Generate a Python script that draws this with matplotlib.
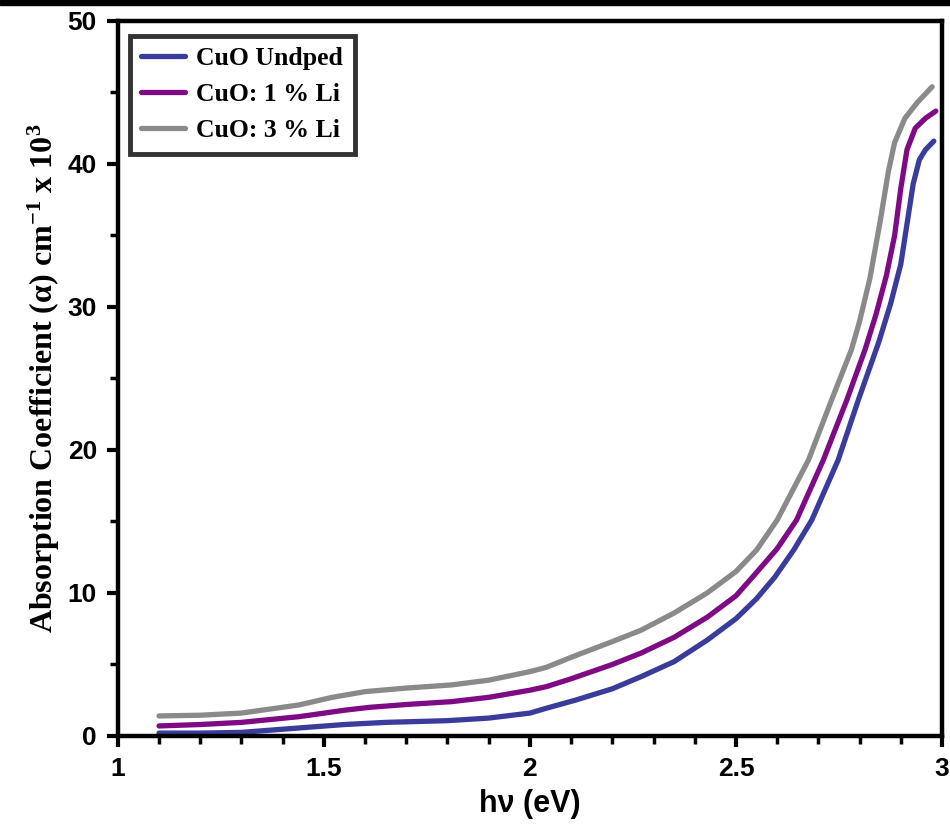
import matplotlib
matplotlib.use("Agg")
import matplotlib.pyplot as plt
from matplotlib.ticker import MultipleLocator
from matplotlib.patches import Rectangle

x_undoped = [1.10,1.20,1.30,1.44,1.55,1.65,1.80,1.90,2.00,2.04,2.11,2.20,2.27,2.35,2.43,2.50,2.55,2.594,2.64,2.684,2.748,2.797,2.846,2.875,2.90,2.915,2.93,2.945,2.96,2.98]
y_undoped = [0.2,0.2,0.25,0.56,0.8,0.95,1.07,1.25,1.6,1.94,2.5,3.3,4.15,5.2,6.7,8.2,9.6,11.1,13.0,15.1,19.3,23.5,27.5,30.2,33.0,35.8,38.6,40.3,41.0,41.6]

x_li1 = [1.10,1.20,1.30,1.44,1.55,1.61,1.70,1.81,1.90,2.00,2.04,2.10,2.20,2.27,2.35,2.43,2.50,2.546,2.60,2.647,2.712,2.769,2.813,2.84,2.865,2.885,2.90,2.915,2.935,2.96,2.985]
y_li1 = [0.7,0.8,0.95,1.35,1.8,2.0,2.2,2.4,2.7,3.2,3.45,4.0,5.0,5.8,6.9,8.3,9.8,11.3,13.1,15.1,19.3,23.5,27.0,29.5,32.2,35.0,38.3,41.0,42.5,43.2,43.7]

x_li3 = [1.10,1.20,1.30,1.44,1.52,1.60,1.70,1.81,1.90,2.00,2.04,2.10,2.20,2.27,2.35,2.43,2.50,2.55,2.60,2.676,2.732,2.78,2.80,2.825,2.85,2.87,2.885,2.91,2.94,2.976]
y_li3 = [1.4,1.45,1.6,2.17,2.7,3.1,3.35,3.57,3.9,4.5,4.8,5.5,6.6,7.4,8.6,10.0,11.5,13.0,15.1,19.3,23.5,27.0,29.0,32.0,36.0,39.5,41.5,43.2,44.3,45.4]

labels = ["CuO Undped", "CuO: 1 % Li", "CuO: 3 % Li"]
colors = ["#3a3c9c", "#7e0a84", "#8a8a8a"]

plt.rcParams['mathtext.fontset'] = 'custom'
plt.rcParams['mathtext.rm'] = 'Liberation Serif:bold'
plt.rcParams['mathtext.it'] = 'Liberation Serif:bold'
plt.rcParams['mathtext.bf'] = 'Liberation Serif:bold'

fig = plt.figure(figsize=(9.5, 8.3), dpi=100)
ax = fig.add_axes([0.124, 0.1133, 0.8676, 0.8614])

for xs, ys, lab, c in zip([x_undoped, x_li1, x_li3], [y_undoped, y_li1, y_li3], labels, colors):
    ax.plot(xs, ys, color=c, lw=3.8, label=lab, solid_capstyle='round', solid_joinstyle='round')

ax.set_xlim(1, 3)
ax.set_ylim(0, 50)
ax.xaxis.set_major_locator(MultipleLocator(0.5))
ax.xaxis.set_minor_locator(MultipleLocator(0.1))
ax.yaxis.set_major_locator(MultipleLocator(10))
ax.yaxis.set_minor_locator(MultipleLocator(5))
ax.set_xticks([1, 1.5, 2, 2.5, 3])
ax.set_xticklabels(["1", "1.5", "2", "2.5", "3"])

tickfont = ['Liberation Sans Narrow', 'Liberation Sans', 'DejaVu Sans']
for s in ax.spines.values():
    s.set_linewidth(3.2)
ax.tick_params(which='major', direction='out', length=8, width=3, labelsize=19, pad=7)
ax.tick_params(which='minor', direction='out', length=6, width=2.5)
ax.tick_params(axis='x', which='both', top=False)
ax.tick_params(axis='y', which='both', right=False)
for lab in ax.get_xticklabels() + ax.get_yticklabels():
    lab.set_family(tickfont)
    lab.set_fontweight('bold')

ax.set_xlabel("h\u03bd (eV)", fontsize=22, fontweight='bold', family=tickfont, labelpad=6)
ax.set_ylabel("Absorption Coefficient (\u03b1) cm$^{-1}$ x 10$^{3}$", fontsize=23, fontweight='bold',
              family=['Liberation Serif', 'DejaVu Serif'], labelpad=4)

leg = ax.legend(loc='upper left', bbox_to_anchor=(0.005, 0.99), frameon=True, fancybox=False,
                prop={'family': ['Liberation Serif', 'DejaVu Serif'], 'weight': 'bold', 'size': 18.5},
                handlelength=1.7, handletextpad=0.45, labelspacing=0.5, borderpad=0.45, borderaxespad=0.3)
leg.get_frame().set_edgecolor('black')
leg.get_frame().set_linewidth(3.5)

fig.patches.append(Rectangle((0, 0.9935), 1, 0.0065, transform=fig.transFigure, color='black', zorder=10))

fig.savefig("out.png", dpi=100)
